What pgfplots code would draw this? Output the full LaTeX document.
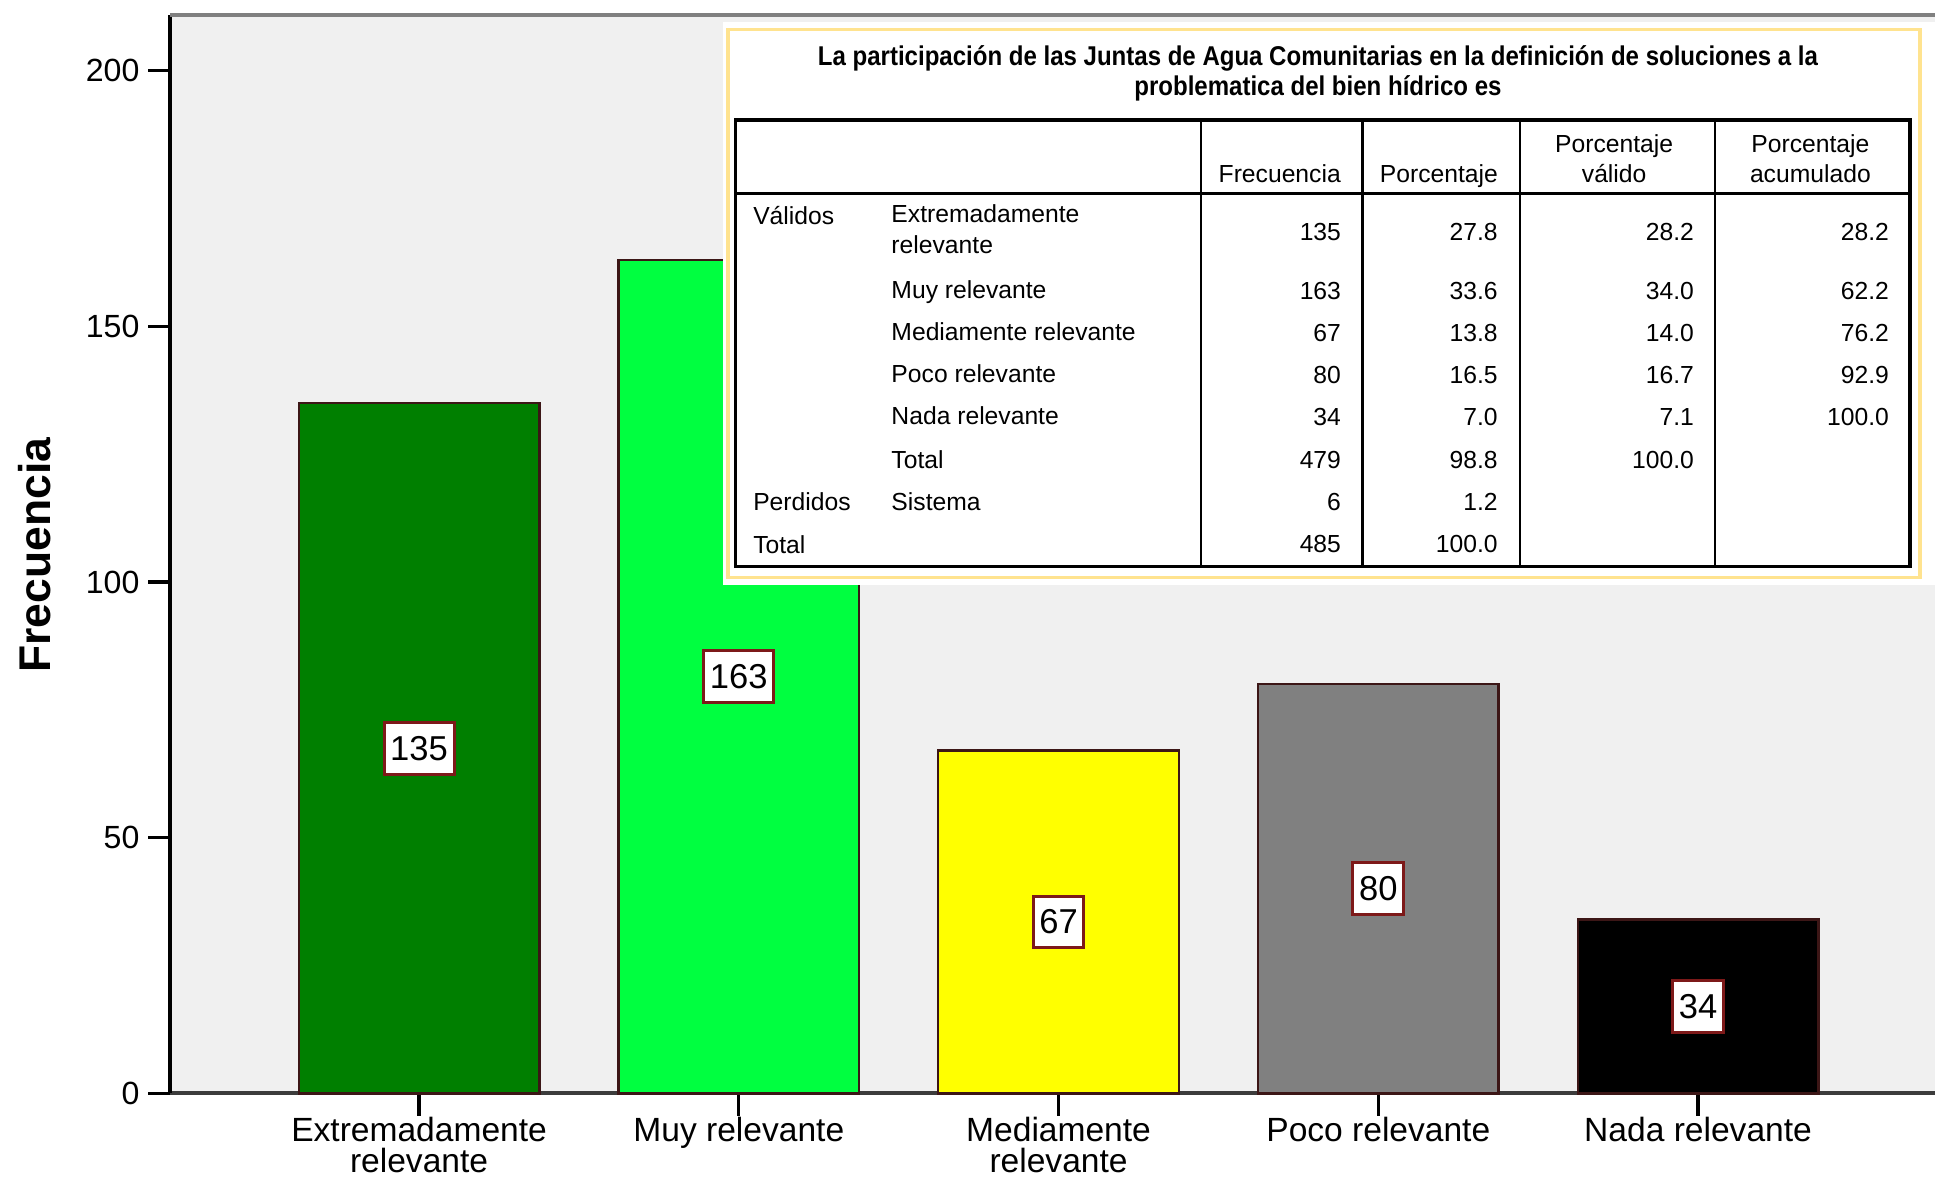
\documentclass[border=0pt]{standalone}
\usepackage{pgfplots}
\pgfplotsset{compat=1.18}
\usepackage{fontspec}
\setmainfont{Liberation Sans}
\newfontfamily\narrowfont{Liberation Sans}[FakeStretch=0.885]
\definecolor{bgc}{HTML}{F0F0F0}
\definecolor{c1}{HTML}{007F00}
\definecolor{c2}{HTML}{00FF40}
\definecolor{c3}{HTML}{FFFF00}
\definecolor{c4}{HTML}{808080}
\definecolor{c5}{HTML}{000000}
\definecolor{edge}{RGB}{60,22,22}
\definecolor{lbledge}{RGB}{125,25,25}
\definecolor{framey}{HTML}{FFE38F}
\definecolor{axgray}{HTML}{3C3C3C}
\begin{document}
\begin{tikzpicture}
\begin{axis}[
  at={(69pt,-443pt)}, anchor=south west,
  scale only axis, width=715pt, height=437pt,
  xmin=-0.778, xmax=4.741, ymin=0, ymax=210.9,
  axis background/.style={fill=bgc},
  axis x line*=bottom, axis y line*=left,
  x axis line style={line width=1.6pt, color=axgray, -},
  y axis line style={line width=1.6pt, color=black, -},
  xtick={0,1,2,3,4},
  xticklabels={{Extremadamente\\relevante},{Muy relevante},{Mediamente\\relevante},{Poco relevante},{Nada relevante}},
  ytick={0,50,100,150,200},
  tick align=outside,
  major tick length=9pt,
  tick style={line width=1.3pt, color=black},
  /pgf/number format/assume math mode=true,
  y tick label style={font=\fontsize{13}{15}\selectfont},
  x tick label style={font=\fontsize{13.6}{12.5}\selectfont, align=center, inner ysep=0pt, yshift=-0.4pt},
  ylabel={Frecuencia},
  ylabel style={font=\bfseries\fontsize{18}{20}\selectfont, at={(axis description cs:-0.077,0.499)}, anchor=center},
  clip=false,
]
\addplot[ybar, bar width=97.5pt, bar shift=0pt, fill=c1, draw=edge, line width=1pt] coordinates {(0,135)};
\addplot[ybar, bar width=97.5pt, bar shift=0pt, fill=c2, draw=edge, line width=1pt] coordinates {(1,163)};
\addplot[ybar, bar width=97.5pt, bar shift=0pt, fill=c3, draw=edge, line width=1pt] coordinates {(2,67)};
\addplot[ybar, bar width=97.5pt, bar shift=0pt, fill=c4, draw=edge, line width=1pt] coordinates {(3,80)};
\addplot[ybar, bar width=97.5pt, bar shift=0pt, fill=c5, draw=edge, line width=1pt] coordinates {(4,34)};
\addplot[draw=none, mark=none, nodes near coords, point meta=explicit symbolic,
  every node near coord/.style={anchor=center, fill=white, draw=lbledge, line width=1.2pt,
    inner xsep=2.5pt, inner ysep=0pt, minimum height=21pt, text=black, font=\fontsize{14}{16}\selectfont}]
  coordinates {(0,67.5) [135] (1,81.5) [163] (2,33.5) [67] (3,40) [80] (4,17) [34]};
\draw[color=c4, line width=1.6pt] (rel axis cs:0,1) -- (rel axis cs:1,1);
\end{axis}
\begin{scope}[x=0.5pt,y=-0.5pt]
\fill[white] (586,18) rectangle (1568,474);
\draw[framey, line width=1.5pt] (590,24) rectangle (1556,468);
\node[font=\narrowfont\bfseries\fontsize{11}{12.5}\selectfont, align=center] at (1068,59.5)
  {La participación de las Juntas de Agua Comunitarias en la definición de soluciones a la\\problematica del bien hídrico es};
\draw[line width=1.5pt] (596,97) rectangle (1548,459);
\draw[line width=1.3pt] (596,157) -- (1548,157);
\foreach \x in {973,1104,1232,1390} \draw[line width=0.9pt] (\x,97) -- (\x,459);
\begin{scope}[every node/.style={font=\fontsize{10}{12}\selectfont, inner sep=0pt}]
% headers
\node[anchor=mid] at (1037,143) {Frecuencia};
\node[anchor=mid] at (1166,143) {Porcentaje};
\node[anchor=mid] at (1308,118) {Porcentaje};
\node[anchor=mid] at (1308,143) {válido};
\node[anchor=mid] at (1467,118) {Porcentaje};
\node[anchor=mid] at (1467,143) {acumulado};
% row labels
\node[anchor=mid west] at (610,177) {Válidos};
\node[anchor=mid west] at (610,408) {Perdidos};
\node[anchor=mid west] at (610,443) {Total};
\node[anchor=mid west] at (722,175) {Extremadamente};
\node[anchor=mid west] at (722,200) {relevante};
\node[anchor=mid west] at (722,237) {Muy relevante};
\node[anchor=mid west] at (722,271) {Mediamente relevante};
\node[anchor=mid west] at (722,305) {Poco relevante};
\node[anchor=mid west] at (722,339) {Nada relevante};
\node[anchor=mid west] at (722,374) {Total};
\node[anchor=mid west] at (722,408) {Sistema};
% numbers
\foreach \y/\a/\b/\c/\d in {189.5/135/27.8/28.2/28.2, 237.5/163/33.6/34.0/62.2, 271.5/67/13.8/14.0/76.2, 305.5/80/16.5/16.7/92.9, 339.5/34/7.0/7.1/100.0, 374.5/479/98.8/100.0/{}, 408.5/6/1.2/{}/{}, 442.5/485/100.0/{}/{}} {
  \node[anchor=mid east] at (1087,\y) {\a};
  \node[anchor=mid east] at (1214,\y) {\b};
  \node[anchor=mid east] at (1373,\y) {\c};
  \node[anchor=mid east] at (1531,\y) {\d};
}
\end{scope}
\end{scope}
\pgfresetboundingbox
\path (0,0) rectangle (784pt,-478pt);
\end{tikzpicture}
\end{document}
